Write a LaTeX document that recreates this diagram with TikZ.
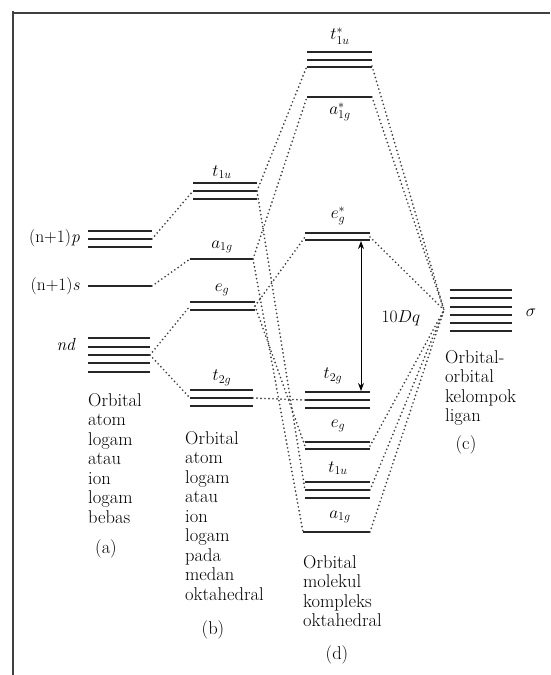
\documentclass[tikz,border=0pt]{standalone}
\usetikzlibrary{arrows.meta}
\begin{document}
\begin{tikzpicture}[x=1pt,y=-1pt,
  lvl/.style={line width=1.3pt, black!85},
  conn/.style={line width=1.9pt, line cap=round, dash pattern=on 0pt off 4pt, black!75},
  lab/.style={font=\fontsize{17.5}{18}\selectfont, inner sep=0pt},
  txt/.style={font=\fontsize{18.5}{19.5}\selectfont, align=left, inner sep=0pt, anchor=north west},
  captxt/.style={font=\fontsize{18.5}{19.5}\selectfont, inner sep=0pt, anchor=base},
]
\useasboundingbox (0,0) rectangle (550,675);
\fill[white] (0,0) rectangle (550,675);
% frame
\draw[line width=2pt, black!75] (13,11) -- (13,675);
\draw[line width=1.6pt, black!75] (12,13) -- (550,13);

% ---- column (a)
\foreach \y in {231,239,247} \draw[lvl] (88,\y) -- (152,\y);
\coordinate (apR) at (152,239);
\draw[lvl] (88,286) -- (152,286);
\coordinate (asR) at (152,286);
\foreach \y in {338,347,355,363,372} \draw[lvl] (88,\y) -- (150,\y);
\coordinate (adR) at (150,355);
\node[lab, anchor=east] (lp) at (80,238) {(n+1)\textit{p}};
\node[lab, anchor=east] (ls) at (80,286) {(n+1)\textit{s}};
\node[lab, anchor=east] (ld) at (76,345) {\textit{nd}};

% ---- column (b)
\foreach \y in {183,191,199} \draw[lvl] (193,\y) -- (257,\y);
\coordinate (btuL) at (193,191); \coordinate (btuR) at (257,191);
\draw[lvl] (190,259) -- (253,259);
\coordinate (baL) at (190,259); \coordinate (baR) at (253,259);
\foreach \y in {302,310} \draw[lvl] (190,\y) -- (255,\y);
\coordinate (beL) at (190,306); \coordinate (beR) at (255,306);
\foreach \y in {390,398,406} \draw[lvl] (190,\y) -- (253,\y);
\coordinate (btL) at (190,398); \coordinate (btR) at (253,398);
\node[lab] (lbtu) at (222,172) {$t_{1u}$};
\node[lab] (lba) at (222,247) {$a_{1g}$};
\node[lab] (lbe) at (222,290) {$e_{g}$};
\node[lab] (lbt) at (222,378) {$t_{2g}$};

% ---- column (d)
\foreach \y in {52,60,67} \draw[lvl] (307,\y) -- (372,\y);
\coordinate (dtusL) at (307,66); \coordinate (dtusR) at (372,66);
\draw[lvl] (307,97) -- (372,97);
\coordinate (dasL) at (307,97); \coordinate (dasR) at (372,97);
\foreach \y in {233,240} \draw[lvl] (305,\y) -- (370,\y);
\coordinate (desL) at (305,237); \coordinate (desR) at (370,237);
\foreach \y in {392,400,408} \draw[lvl] (305,\y) -- (370,\y);
\coordinate (dtL) at (305,400);
\foreach \y in {442,449} \draw[lvl] (305,\y) -- (370,\y);
\coordinate (deL) at (305,446); \coordinate (deR) at (370,446);
\foreach \y in {482,490,498} \draw[lvl] (305,\y) -- (370,\y);
\coordinate (dtuL) at (305,490); \coordinate (dtuR) at (370,490);
\draw[lvl] (303,532) -- (370,532);
\coordinate (daL) at (303,532); \coordinate (daR) at (370,532);
\node[lab] (ldtus) at (340,36) {$t_{1u}^{*}$};
\node[lab] (ldas) at (340,112) {$a_{1g}^{*}$};
\node[lab] (ldes) at (338,216) {$e_{g}^{*}$};
\node[lab] (ldt) at (333,376) {$t_{2g}$};
\node[lab] (lde) at (338,426) {$e_{g}$};
\node[lab] (ldtu) at (338,468) {$t_{1u}$};
\node[lab] (lda) at (340,517) {$a_{1g}$};

% arrow 10Dq
\coordinate (arT) at (361,241);
\coordinate (arB) at (361,391);
\draw[{Stealth[length=8pt,width=6pt]}-{Stealth[length=8pt,width=6pt]}, line width=1pt] (arT) -- (arB);
\node[lab] (ldq) at (401,318) {10$Dq$};

% ---- column (c)
\foreach \y in {290,298,307,315,323,331} \draw[lvl] (450,\y) -- (512,\y);
\coordinate (sig) at (444,310);
\node[lab] (lsig) at (531,313) {$\sigma$};

% ---- connectors
\draw[conn] (apR) -- (btuL);
\draw[conn] (asR) -- (baL);
\draw[conn] (adR) -- (beL);
\draw[conn] (adR) -- (btL);
\draw[conn] (btuR) -- (dtusL);
\draw[conn] (btuR) -- (dtuL);
\draw[conn] (baR) -- (dasL);
\draw[conn] (baR) -- (daL);
\draw[conn] (beR) -- (desL);
\draw[conn] (beR) -- (deL);
\draw[conn] (btR) -- (dtL);
\draw[conn] (dtusR) -- (sig);
\draw[conn] (dasR) -- (sig);
\draw[conn] (desR) -- (sig);
\draw[conn] (deR) -- (sig);
\draw[conn] (dtuR) -- (sig);
\draw[conn] (daR) -- (sig);

% ---- captions
\node[txt] (ta) at (88,393) {Orbital\\atom\\logam\\atau\\ion\\logam\\bebas};
\node[captxt] (ca) at (106,553) {(a)};
\node[txt] (tb) at (185,431) {Orbital\\atom\\logam\\atau\\ion\\logam\\pada\\medan\\oktahedral};
\node[captxt] (cb) at (213,634) {(b)};
\node[txt] (tc) at (445,350) {Orbital-\\orbital\\kelompok\\ligan};
\node[captxt] (cc) at (466,449) {(c)};
\node[txt] (td) at (303,555) {Orbital\\molekul\\kompleks\\oktahedral};
\node[captxt] (cd) at (337,659) {(d)};
\end{tikzpicture}
\end{document}
